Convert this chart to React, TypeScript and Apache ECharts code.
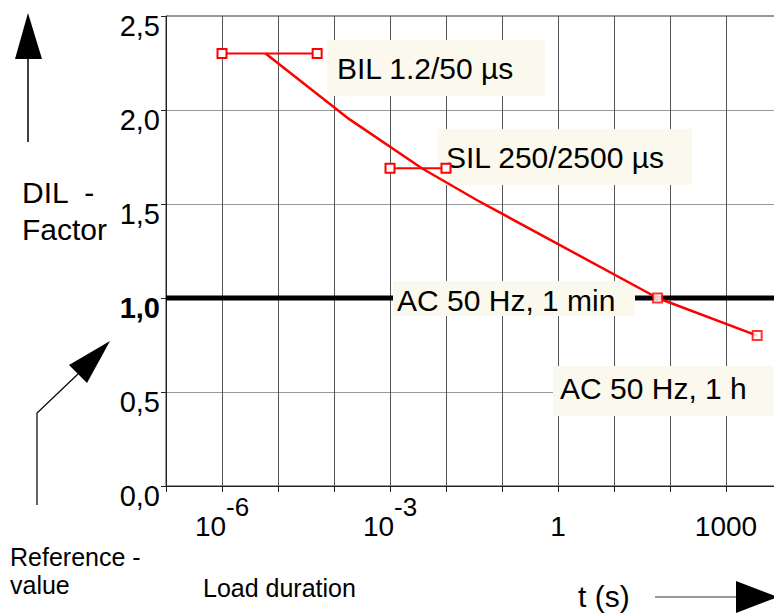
import React, { useEffect, useRef } from "react";
import * as echarts from "echarts";

// Load duration t (s) vs DIL factor
const bilPoints: [number, number][] = [[1e-6, 2.3], [5e-5, 2.3]];
const silPoints: [number, number][] = [[1e-3, 1.69], [1e-2, 1.69]];
const dilCurve: [number, number][] = [
  [6e-6, 2.3],
  [1.9e-4, 1.95],
  [3.7e-3, 1.69],
  [0.036, 1.52],
  [60, 1.0],
  [3600, 0.8],
];
const acPoints: [number, number][] = [[60, 1.0], [3600, 0.8]];
const referenceLine: [number, number][] = [[1e-7, 1.0], [1e4, 1.0]];
const xTickLabels: Record<number, string> = {
  [-6]: "{b|10}{s|-6}",
  [-3]: "{b|10}{s|-3}",
  [0]: "{b|1}",
  [3]: "{b|1000}",
};
const FONT = "'Liberation Sans', Arial, sans-serif";

export default function App() {
  const ref = useRef<HTMLDivElement>(null);
  useEffect(() => {
    if (!ref.current) return;
    const chart = echarts.init(ref.current, null, { renderer: "svg" });
    const red = "#ff0000";
    const sq = {
      symbol: "rect",
      symbolSize: 9,
      itemStyle: { color: "#fff", borderColor: red, borderWidth: 2 },
    };
    const box = (x: number, y: number, w: number, h: number, text: string, tx: number, ty: number) => [
      { type: "rect", z: 3, shape: { x, y, width: w, height: h }, style: { fill: "#fbf9ee" } },
      {
        type: "text", z: 4, x: tx, y: ty,
        style: { text, font: `30px ${FONT}`, fill: "#000", verticalAlign: "middle", align: "left" },
      },
    ];
    const txt = (x: number, y: number, text: string, size: number) => ({
      type: "text", x, y,
      style: { text, font: `${size}px ${FONT}`, fill: "#000", verticalAlign: "middle", align: "left" },
    });
    chart.setOption({
      animation: false,
      backgroundColor: "#fff",
      grid: {
        left: 166, top: 16, width: 616, height: 470,
        show: true, borderColor: "#333", borderWidth: 1, backgroundColor: "transparent",
      },
      xAxis: {
        type: "log", logBase: 10, min: 1e-7, max: 1e4, interval: 1,
        axisLine: { show: true, lineStyle: { color: "#222", width: 1 } },
        axisTick: { show: true, length: 6, lineStyle: { color: "#222" } },
        splitLine: { show: true, lineStyle: { color: "#555", width: 1 } },
        minorTick: { show: false },
        axisLabel: {
          margin: 15,
          formatter: (v: number) => {
            const k = Math.round(Math.log10(v));
            return xTickLabels[k] ?? "";
          },
          rich: {
            b: { fontFamily: FONT, fontSize: 28, color: "#000", lineHeight: 30, padding: [20, 0, 0, 0] },
            s: { fontFamily: FONT, fontSize: 26, color: "#000", lineHeight: 26, padding: [3, 0, 21, 0] },
          },
        },
      },
      yAxis: {
        type: "value", min: 0, max: 2.5, interval: 0.5,
        axisLine: { show: true, lineStyle: { color: "#222", width: 1 } },
        axisTick: { show: true, length: 5, lineStyle: { color: "#222" } },
        splitLine: { show: true, lineStyle: { color: "#999", width: 1 } },
        axisLabel: {
          margin: 6,
          padding: [20, 0, 0, 0],
          formatter: (v: number) => {
            const s = v.toFixed(1).replace(".", ",");
            return v === 1 ? `{bo|${s}}` : `{n|${s}}`;
          },
          rich: {
            n: { fontFamily: FONT, fontSize: 29, color: "#000" },
            bo: { fontFamily: FONT, fontSize: 29, color: "#000", fontWeight: "bold" },
          },
        },
      },
      series: [
        {
          name: "Reference", type: "line", data: referenceLine, z: 2,
          symbol: "none", lineStyle: { color: "#000", width: 5 },
        },
        {
          name: "DIL", type: "line", data: dilCurve, z: 5,
          symbol: "none", lineStyle: { color: red, width: 2.5 },
        },
        {
          name: "BIL", type: "line", data: bilPoints, z: 6, ...sq,
          lineStyle: { color: red, width: 2 },
        },
        {
          name: "SIL", type: "line", data: silPoints, z: 6, ...sq,
          lineStyle: { color: red, width: 2 },
        },
        { name: "AC", type: "scatter", data: acPoints, z: 7, ...sq },
      ],
      graphic: [
        ...box(327, 40, 218, 56, "BIL 1.2/50 µs", 337, 68),
        ...box(437, 129, 255, 56, "SIL 250/2500 µs", 446, 157),
        ...box(393, 281, 242, 35, "AC 50 Hz, 1 min", 397, 300),
        ...box(553, 366, 240, 50, "AC 50 Hz, 1 h", 560, 388),
        // up arrow
        { type: "line", shape: { x1: 28, y1: 58, x2: 28, y2: 142 }, style: { stroke: "#000", lineWidth: 1.5 } },
        { type: "polygon", shape: { points: [[28, 13], [15, 59], [42, 59]] }, style: { fill: "#000" } },
        // reference arrow
        { type: "polyline", shape: { points: [[37, 505], [37, 413], [78, 374]] }, style: { stroke: "#000", lineWidth: 1.2, fill: "none" } },
        { type: "polygon", shape: { points: [[110, 341], [69, 365], [87, 383]] }, style: { fill: "#000" } },
        // time arrow
        { type: "line", shape: { x1: 655, y1: 597, x2: 738, y2: 597 }, style: { stroke: "#999", lineWidth: 2 } },
        { type: "polygon", shape: { points: [[736, 581], [778, 597], [736, 613]] }, style: { fill: "#000" } },
        txt(22, 192, "DIL  -", 30),
        txt(22, 229, "Factor", 30),
        txt(10, 557, "Reference -", 25),
        txt(10, 585, "value", 25),
        txt(203, 588, "Load duration", 25),
        txt(578, 596, "t (s)", 30),
      ],
    });
    return () => chart.dispose();
  }, []);
  return (
    <div style={{ position: "fixed", left: 0, top: 0, width: 774, height: 614, overflow: "hidden", background: "#fff" }}>
      <div ref={ref} style={{ width: 800, height: 614 }} />
    </div>
  );
}
